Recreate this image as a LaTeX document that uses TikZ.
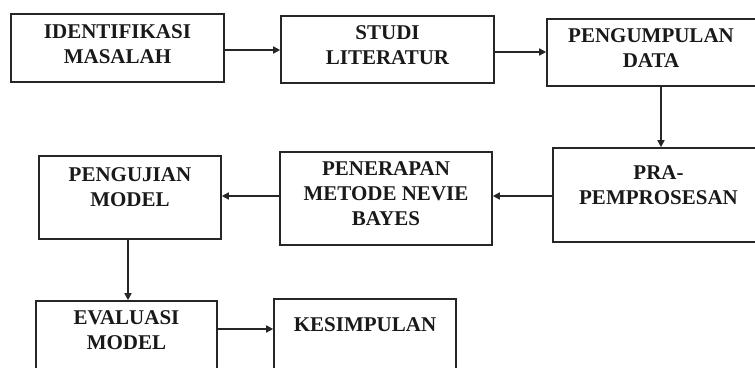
\documentclass[tikz,border=0pt]{standalone}
\usepackage{fontspec}
\setmainfont{Liberation Serif}
\usetikzlibrary{arrows.meta}
\begin{document}
\begin{tikzpicture}[x=1pt,y=-1pt,
  box/.style={draw=black!85, line width=1.6pt, rectangle, inner sep=0pt},
  lbl/.style={font=\fontsize{21}{25}\selectfont\bfseries, align=center, inner sep=0pt, text=black!90},
  arr/.style={draw=black!85, line width=1.5pt, -{Triangle[length=7pt,width=7pt]}}]
\useasboundingbox (0,0) rectangle (755,367);
\clip (0,0) rectangle (755,367);
% boxes
\node[box, minimum width=213pt, minimum height=68pt] (b1) at (117.5,48) {};
\node[box, minimum width=213pt, minimum height=67pt] (b2) at (387.5,49.5) {};
\node[box, minimum width=213pt, minimum height=67pt] (b3) at (653.5,52.5) {};
\node[box, minimum width=211pt, minimum height=94pt] (b4) at (658.5,195) {};
\node[box, minimum width=212pt, minimum height=93pt] (b5) at (386,198.5) {};
\node[box, minimum width=182pt, minimum height=83pt] (b6) at (130,197.5) {};
\node[box, minimum width=181pt, minimum height=79pt] (b7) at (126.5,340.5) {};
\node[box, minimum width=182pt, minimum height=81pt] (b8) at (365,339.5) {};
% texts
\node[lbl] (t1) at (117.5,44.5) {IDENTIFIKASI\\MASALAH};
\node[lbl] (t2) at (387.5,45.5) {STUDI\\LITERATUR};
\node[lbl] (t3) at (651,48.5) {PENGUMPULAN\\DATA};
\node[lbl] (t4) at (658.5,185.5) {PRA-\\PEMPROSESAN};
\node[lbl] (t5) at (386,194) {PENERAPAN\\METODE NEVIE\\BAYES};
\node[lbl] (t6) at (130,187.5) {PENGUJIAN\\MODEL};
\node[lbl] (t7) at (126.5,330.5) {EVALUASI\\MODEL};
\node[lbl] (t8) at (365,325) {KESIMPULAN};
% connectors
\draw[arr] (b1.east |- 0,50) -- (b2.west |- 0,50);
\draw[arr] (b2.east |- 0,52) -- (b3.west |- 0,52);
\draw[arr] (b3.south -| 661,0) -- (b4.north -| 661,0);
\draw[arr] (b4.west |- 0,196) -- (b5.east |- 0,196);
\draw[arr] (b5.west |- 0,196) -- (b6.east |- 0,196);
\draw[arr] (b6.south -| 128,0) -- (b7.north -| 128,0);
\draw[arr] (b7.east |- 0,329) -- (b8.west |- 0,329);
\end{tikzpicture}
\end{document}
